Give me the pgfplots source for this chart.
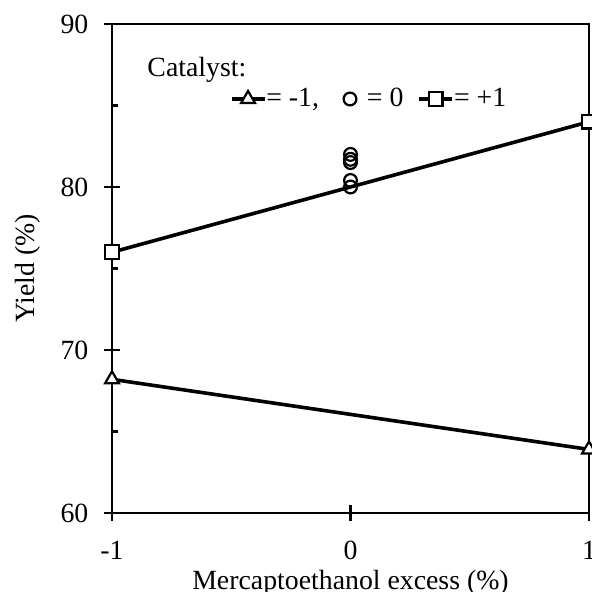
\documentclass[border=0pt]{standalone}
\usepackage{fontspec}
\setmainfont{Liberation Serif}
\usepackage{pgfplots}
\pgfplotsset{compat=1.18}
\pgfplotsset{circleleg/.style={legend image code/.code={\path (0pt,0pt) (16.5pt,0pt); \draw[##1] plot coordinates {(8.25pt,0pt)};}}}
\begin{document}
\fontsize{13.9}{16}\selectfont
\begin{tikzpicture}
\begin{axis}[
  name=ax, scale only axis, width=238.5pt, height=244.5pt,
  xmin=-1, xmax=1, ymin=60, ymax=90,
  xtick={-1,0,1}, xticklabels={-1,0,1},
  ytick={60,70,80,90}, yticklabels={60,70,80,90},
  minor ytick={65,75,85},
  tick pos=left,
  tick align=center,
  major tick length=8pt, minor tick length=3pt,
  every minor y tick/.append style={xshift=1.5pt},
  axis line style={line width=1.15pt},
  tick style={black, line width=1.15pt},
  yticklabel style={anchor=east, xshift=-3pt},
  xticklabel style={anchor=center, yshift=-14.5pt},
  xlabel={Mercaptoethanol excess (\%)},
  ylabel={Yield (\%)},
  every axis x label/.style={at={(axis description cs:0.5,-0.1565)}, anchor=base},
  every axis y label/.style={at={(axis description cs:-0.1765,0.5)}, anchor=center, rotate=90},
  clip=false,
  legend image code/.code={\draw[mark repeat=2,mark phase=2,#1] plot coordinates {(0pt,0pt)(8.25pt,0pt)(16.5pt,0pt)};},
  legend columns=3,
  legend style={at={(axis description cs:0.246,0.8466)}, anchor=west, draw=none, fill=none, inner sep=0pt,
    nodes={inner xsep=0pt, inner ysep=1pt},
    /tikz/every even column/.append style={column sep=7pt}},
]
\addplot[line width=1.8pt, mark=triangle*, mark size=4pt, mark options={fill=white, line width=1.1pt}] coordinates {(-1,68.2) (1,63.9)};
\addplot[only marks, mark=o, mark size=3.2pt, mark options={line width=1.1pt}, circleleg] coordinates {(0,80.0) (0,80.4) (0,81.5) (0,81.7) (0,82.0)};
\addplot[line width=1.8pt, mark=square*, mark size=3.4pt, mark options={fill=white, line width=1.1pt}] coordinates {(-1,76) (1,84)};
\legend{{= -1,}, {= 0}, {= +1}}
\node[anchor=west, inner sep=0pt] at (axis description cs:0.0735,0.906) {Catalyst:};
\end{axis}
\pgfresetboundingbox
\path[use as bounding box] ([shift={(-56pt,-39.5pt)}]ax.south west) rectangle ([shift={(1.5pt,12pt)}]ax.north east);
\end{tikzpicture}
\end{document}
